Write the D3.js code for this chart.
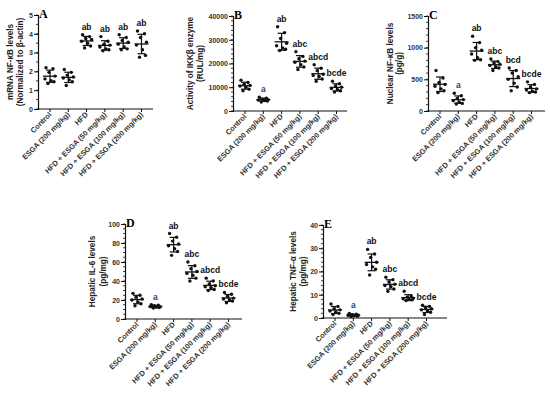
<!DOCTYPE html>
<html>
<head>
<meta charset="utf-8">
<script src="https://cdn.jsdelivr.net/npm/d3@7"></script>
<style>
  body { margin: 0; background: #fff; }
  svg { display: block; }
  text { font-family: "Liberation Sans", Arial, sans-serif; }
</style>
</head>
<body>
<div id="graphic"></div>
<script>
// categorie (stesse per tutti i pannelli)
var groups = ["Control", "ESGA (200 mg/kg)", "HFD", "HFD + ESGA (50 mg/kg)",
              "HFD + ESGA (100 mg/kg)", "HFD + ESGA (200 mg/kg)"];

// valori, un array per gruppo
var mrnaNFkB = [
    [2.2, 2.15, 1.95, 1.75, 1.6, 1.5, 1.45, 1.35],
    [2.1, 1.95, 1.8, 1.7, 1.65, 1.55, 1.45, 1.25],
    [3.95, 3.85, 3.75, 3.7, 3.6, 3.5, 3.35, 3.25],
    [3.85, 3.6, 3.45, 3.4, 3.3, 3.2, 3.15, 3.1],
    [3.95, 3.8, 3.65, 3.55, 3.45, 3.3, 3.2, 3.15],
    [4.15, 4.0, 3.8, 3.55, 3.4, 3.15, 2.85, 2.75]
];
var ikkActivity = [
    [13000, 12000, 11200, 10800, 10500, 10000, 9200, 8500],
    [5800, 5400, 5000, 4800, 4600, 4400, 4200, 3800],
    [35500, 33000, 30500, 28500, 27500, 26500, 26000, 25500],
    [25000, 23000, 22000, 21000, 20500, 19500, 18500, 17500],
    [19500, 18000, 17000, 15500, 15000, 14500, 13500, 12500],
    [12500, 11500, 10500, 10000, 9500, 9000, 8500, 8000]
];
var nuclearNFkB = [
    [640, 520, 450, 420, 390, 350, 320, 290],
    [280, 240, 200, 180, 160, 140, 120, 110],
    [1180, 1080, 1000, 960, 900, 840, 810, 800],
    [820, 780, 760, 740, 720, 700, 680, 640],
    [680, 640, 600, 540, 500, 440, 380, 320],
    [460, 420, 380, 350, 330, 310, 300, 290]
];
var il6 = [
    [27, 25, 23, 21, 20, 18, 16, 14],
    [15, 14.5, 14, 13, 13, 12.5, 12, 11.5],
    [90, 86, 82, 79, 77, 74, 71, 67],
    [60, 56, 53, 50, 48, 46, 43, 40],
    [43, 40, 37, 35, 34, 33, 31, 30],
    [28, 26, 24, 22, 21, 20, 19, 17]
];
var tnfa = [
    [6, 5, 4, 3.5, 3, 2.5, 2, 1.5],
    [2, 1.6, 1.4, 1.2, 1.1, 1, 0.8, 0.6],
    [29.5, 27.5, 26, 24, 23, 22, 21, 18.5],
    [17.5, 16.5, 15.5, 14.5, 14, 13.5, 12.5, 11.5],
    [11.5, 9.5, 9, 8.5, 8.3, 8, 7.8, 7.5],
    [5.5, 5, 4.5, 4, 3.5, 3, 2.5, 1.5]
];

// lettere di significativita'
var lettersA = ["", "", "ab", "ab", "ab", "ab"];
var lettersB = ["", "a", "ab", "abc", "abcd", "bcde"];
var lettersC = ["", "a", "ab", "abc", "bcd", "bcde"];
var lettersD = ["", "a", "ab", "abc", "abcd", "bcde"];
var lettersE = ["", "a", "ab", "abc", "abcd", "bcde"];

// tick asse y
var ticksA = [0, 1, 2, 3, 4, 5];
var ticksB = [0, 10000, 20000, 30000, 40000];
var ticksC = [0, 500, 1000, 1500];
var ticksD = [0, 20, 40, 60, 80, 100];
var ticksE = [0, 10, 20, 30, 40];

var svg = d3.select('#graphic')
    .append('svg')
    .attr('width', 550)
    .attr('height', 398);

// spostamento orizzontale fisso dei punti (stile Prism)
var jitter = [-4, 3, -1, 5, -5, 1, 4, -2];

function drawPanel(p) {
    var g = svg.append('g');
    var yScale = d3.scaleLinear().domain(p.domain).range([p.bot, p.top]);
    var xScale = d3.scalePoint().domain(groups).range([p.x0 + 12, p.x0 + 12 + 5 * 18.3]);

    // minor ticks
    var minor = d3.range(p.domain[0], p.domain[1] + p.minor / 2, p.minor);
    g.selectAll('.minor').data(minor).enter().append('line')
        .attr('x1', p.x0 - 2).attr('x2', p.x0)
        .attr('y1', function (d) { return yScale(d); })
        .attr('y2', function (d) { return yScale(d); })
        .attr('stroke', '#111').attr('stroke-width', 0.8);

    // asse y
    var yAxis = d3.axisLeft(yScale).tickValues(p.ticks).tickSize(4).tickPadding(1)
        .tickFormat(d3.format('d'));
    var ya = g.append('g')
        .attr('transform', 'translate(' + p.x0 + ',0)')
        .call(yAxis);
    ya.select('.domain').attr('stroke', '#111').attr('stroke-width', 1.2);
    ya.selectAll('.tick line').attr('stroke', '#111').attr('stroke-width', 1);
    ya.selectAll('.tick text')
        .attr('font-size', '7px').attr('font-weight', 'bold').attr('fill', '#333')
        .style('font-family', '"Liberation Sans", Arial, sans-serif');

    // asse x
    g.append('line')
        .attr('x1', p.x0).attr('x2', p.x1)
        .attr('y1', p.bot).attr('y2', p.bot)
        .attr('stroke', '#111').attr('stroke-width', 1.2);
    g.selectAll('.xt').data(groups).enter().append('line')
        .attr('x1', function (d) { return xScale(d); })
        .attr('x2', function (d) { return xScale(d); })
        .attr('y1', p.bot).attr('y2', p.bot + 3)
        .attr('stroke', '#111').attr('stroke-width', 1);
    g.selectAll('.xl').data(groups).enter().append('text')
        .attr('transform', function (d) {
            return 'translate(' + (xScale(d) + 2) + ',' + (p.bot + 6) + ') rotate(-45)';
        })
        .attr('text-anchor', 'end')
        .attr('font-size', '7.4px').attr('font-weight', 'bold').attr('fill', '#333')
        .text(function (d) { return d; });

    // titolo asse y (due righe)
    var cy = (p.top + p.bot) / 2;
    p.label.forEach(function (t, i) {
        g.append('text')
            .attr('transform', 'translate(' + p.lx[i] + ',' + cy + ') rotate(-90)')
            .attr('text-anchor', 'middle')
            .attr('dy', '0.35em')
            .attr('font-size', '8.2px').attr('font-weight', 'bold').attr('fill', '#222')
            .text(t);
    });

    // lettera del pannello
    g.append('text')
        .attr('x', p.x0 + 1).attr('y', p.top + 3)
        .style('font-family', '"Liberation Serif", "Times New Roman", serif')
        .attr('font-size', '12px').attr('font-weight', 'bold')
        .text(p.letter);

    // gruppi: punti, media, SD
    p.data.forEach(function (vals, i) {
        var cx = xScale(groups[i]);
        var m = d3.mean(vals), sd = d3.deviation(vals);
        var gg = g.append('g');
        gg.selectAll('circle').data(vals).enter().append('circle')
            .attr('cx', function (d, j) { return cx + jitter[j]; })
            .attr('cy', function (d) { return yScale(d); })
            .attr('r', 1.7)
            .attr('fill', '#111');
        gg.append('line')
            .attr('x1', cx).attr('x2', cx)
            .attr('y1', yScale(m - sd)).attr('y2', yScale(m + sd))
            .attr('stroke', '#111').attr('stroke-width', 1.2);
        [m - sd, m + sd].forEach(function (v) {
            gg.append('line')
                .attr('x1', cx - 4).attr('x2', cx + 4)
                .attr('y1', yScale(v)).attr('y2', yScale(v))
                .attr('stroke', '#111').attr('stroke-width', 1.2);
        });
        gg.append('line')
            .attr('x1', cx - 7).attr('x2', cx + 7)
            .attr('y1', yScale(m)).attr('y2', yScale(m))
            .attr('stroke', '#111').attr('stroke-width', 1.3);

        if (p.sig[i]) {
            var topV = Math.max(d3.max(vals), m + sd);
            gg.append('text')
                .attr('x', cx).attr('y', yScale(topV) - 5)
                .attr('text-anchor', 'middle')
                .attr('font-size', '8.5px').attr('font-weight', 'bold')
                .attr('fill', p.sig[i] === 'a' ? '#1d4f5c' : '#111')
                .text(p.sig[i]);
        }
    });
}

drawPanel({letter: 'A', data: mrnaNFkB, sig: lettersA, ticks: ticksA, domain: [0, 5], minor: 0.5,
    x0: 38, x1: 153, top: 15, bot: 109, lx: [10, 20],
    label: ['mRNA NF-\u03baB levels', '(Normalized to \u03b2-actin)']});
drawPanel({letter: 'B', data: ikkActivity, sig: lettersB, ticks: ticksB, domain: [0, 40000], minor: 2000,
    x0: 233, x1: 347, top: 16, bot: 111, lx: [190, 200],
    label: ['Activity of IKK\u03b2 enzyme', '(RUL/mg)']});
drawPanel({letter: 'C', data: nuclearNFkB, sig: lettersC, ticks: ticksC, domain: [0, 1500], minor: 100,
    x0: 428, x1: 545, top: 16, bot: 111, lx: [390, 399],
    label: ['Nuclear NF-\u03baB levels', '(pg/g)']});
drawPanel({letter: 'D', data: il6, sig: lettersD, ticks: ticksD, domain: [0, 100], minor: 5,
    x0: 125, x1: 242, top: 224, bot: 319, lx: [92, 103],
    label: ['Hepatic IL-6 levels', '(pg/mg)']});
drawPanel({letter: 'E', data: tnfa, sig: lettersE, ticks: ticksE, domain: [0, 40], minor: 2,
    x0: 323, x1: 447, top: 225, bot: 318, lx: [293, 303],
    label: ['Hepatic TNF-\u03b1 levels', '(pg/mg)']});
</script>
</body>
</html>
